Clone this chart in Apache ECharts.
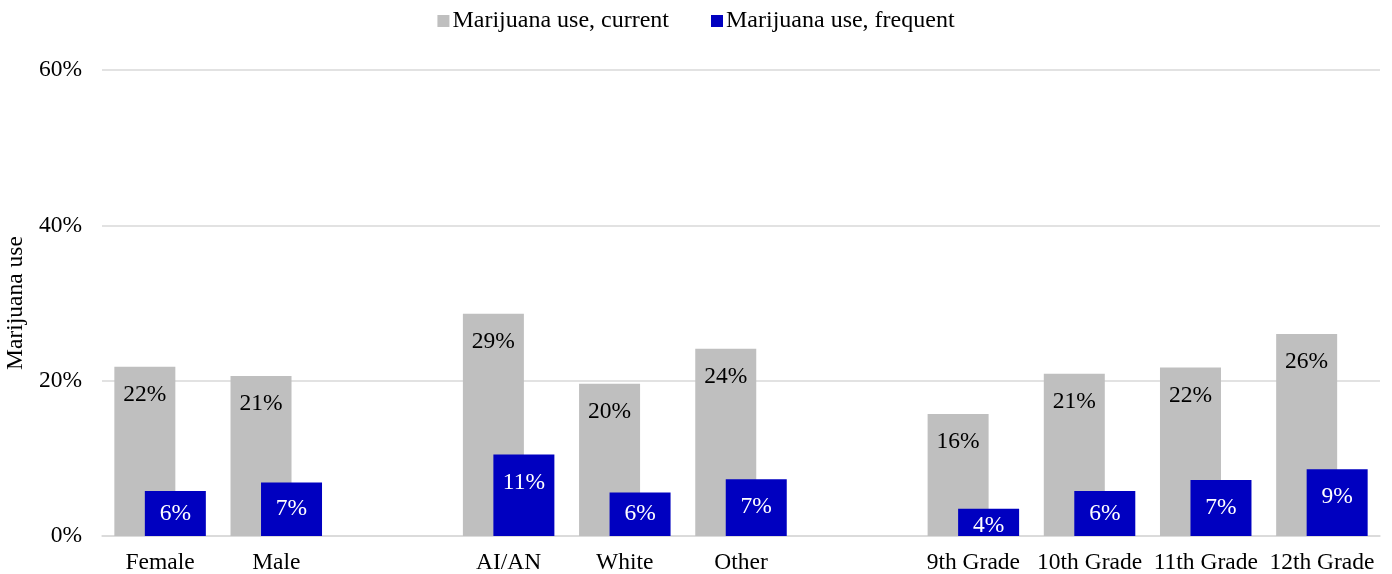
<!DOCTYPE html>
<html>
<head>
<meta charset="utf-8">
<script src="https://cdn.jsdelivr.net/npm/echarts@6/dist/echarts.min.js"></script>
<style>
  html, body { margin: 0; padding: 0; background: #ffffff; }
  #chart { width: 1392px; height: 574px; }
</style>
</head>
<body>
<div id="chart"></div>
<script>
// Groups are separated by blank categories (sex | race | grade)
var categories = ['Female', 'Male', '', 'AI/AN', 'White', 'Other', '', '9th Grade', '10th Grade', '11th Grade', '12th Grade'];
var currentUse = [21.8, 20.6, null, 28.6, 19.6, 24.1, null, 15.7, 20.9, 21.7, 26.0];
var frequentUse = [5.8, 6.9, null, 10.5, 5.6, 7.3, null, 3.5, 5.8, 7.2, 8.6];
var yTicks = { min: 0, max: 60, interval: 20 };

var FONT = "'Liberation Serif', 'Times New Roman', serif";

// Place value labels near the inside end, pulled toward the middle on short bars
function insideEnd(params) {
  var r = params.rect;
  var off = Math.min(28, Math.max(r.height / 2, 17));
  return {
    x: r.x + r.width / 2,
    y: r.y + off,
    align: 'center',
    verticalAlign: 'middle'
  };
}

function pct(p) { return Math.round(p.value) + '%'; }

var chart = echarts.init(document.getElementById('chart'));
chart.setOption({
  animation: false,
  textStyle: { fontFamily: FONT },
  legend: {
    top: 4,
    left: 'center',
    itemWidth: 12,
    itemHeight: 12,
    itemGap: 42,
    icon: 'rect',
    textStyle: { fontFamily: FONT, fontSize: 24, color: '#000000', padding: [0, 0, 0, -2] },
    data: ['Marijuana use, current', 'Marijuana use, frequent']
  },
  grid: { left: 102, right: 12, top: 70, bottom: 38, containLabel: false, outerBoundsMode: 'none' },
  xAxis: {
    type: 'category',
    data: categories,
    axisTick: { show: false },
    axisLine: { lineStyle: { color: '#d9d9d9', width: 1.5 } },
    axisLabel: { fontFamily: FONT, fontSize: 23.5, color: '#000000', margin: 15, interval: 0 }
  },
  yAxis: {
    type: 'value',
    min: yTicks.min,
    max: yTicks.max,
    interval: yTicks.interval,
    name: 'Marijuana use',
    nameLocation: 'middle',
    nameGap: 70,
    nameTextStyle: { fontFamily: FONT, fontSize: 23.5, color: '#000000' },
    axisLine: { show: false },
    axisTick: { show: false },
    splitLine: { lineStyle: { color: '#d9d9d9', width: 1.5 } },
    axisLabel: { fontFamily: FONT, fontSize: 23.5, color: '#000000', margin: 20, formatter: '{value}%' }
  },
  series: [
    {
      name: 'Marijuana use, current',
      type: 'bar',
      data: currentUse,
      barWidth: 61,
      barGap: '-50%',
      itemStyle: { color: '#bfbfbf' },
      label: { show: true, formatter: pct, fontFamily: FONT, fontSize: 23.5, color: '#000000' },
      labelLayout: insideEnd
    },
    {
      name: 'Marijuana use, frequent',
      type: 'bar',
      data: frequentUse,
      barWidth: 61,
      barGap: '-50%',
      itemStyle: { color: '#0000c0' },
      label: { show: true, formatter: pct, fontFamily: FONT, fontSize: 23.5, color: '#ffffff' },
      labelLayout: insideEnd
    }
  ]
});
</script>
</body>
</html>
